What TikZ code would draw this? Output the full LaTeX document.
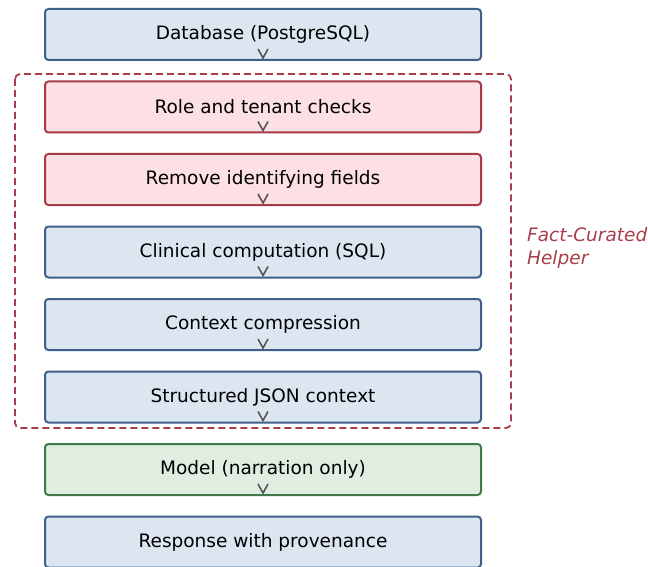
\documentclass[tikz,border=0pt]{standalone}
\usepackage{fontspec}
\setmainfont{DejaVu Sans}
\begin{document}
\begin{tikzpicture}[x=1pt,y=-1pt,
  box/.style={draw, line width=2pt, rounded corners=3.5pt, minimum width=436pt, minimum height=51pt, inner sep=0pt, font=\fontsize{18.5}{22}\selectfont},
  bluebox/.style={box, draw=boxblue, fill=fillblue},
  redbox/.style={box, draw=boxred, fill=fillred},
  greenbox/.style={box, draw=boxgreen, fill=fillgreen},
  chev/.style={draw=chevgray, line width=1.6pt},
  group/.style={draw=grpred, line width=1.8pt, dash pattern=on 7pt off 4pt, rounded corners=5pt}]
\definecolor{boxblue}{HTML}{3F5F88}
\definecolor{fillblue}{HTML}{DCE6F1}
\definecolor{boxred}{HTML}{A63A48}
\definecolor{fillred}{HTML}{FCE0E4}
\definecolor{boxgreen}{HTML}{3E7A48}
\definecolor{fillgreen}{HTML}{DFEEE0}
\definecolor{chevgray}{HTML}{555555}
\definecolor{grpred}{HTML}{A83E4C}
\useasboundingbox (0,0) rectangle (648,567);

% helper group frame
\draw[group] (15,74) rectangle (511,428);
\node[anchor=west, align=left, text=grpred, inner sep=0pt, font=\fontsize{18.5}{23}\selectfont\itshape] (lbl) at (527,247.5) {Fact-Curated\\Helper};

% pipeline stages
\node[bluebox]  (db)   at (263,34.5)  {Database (PostgreSQL)};
\node[redbox]   (role) at (263,107)   {Role and tenant checks};
\node[redbox]   (rem)  at (263,179.5) {Remove identifying fields};
\node[bluebox]  (clin) at (263,252)   {Clinical computation (SQL)};
\node[bluebox]  (ctx)  at (263,324.5) {Context compression};
\node[bluebox]  (json) at (263,397)   {Structured JSON context};
\node[greenbox] (mod)  at (263,469.5) {Model (narration only)};
\node[bluebox]  (resp) at (263,542)   {Response with provenance};

% flow chevrons at the foot of each stage
\foreach \n in {db,role,rem,clin,ctx,json,mod}{
  \draw[chev] ([xshift=-5pt,yshift=12pt]\n.south) -- ([yshift=3pt]\n.south) -- ([xshift=5pt,yshift=12pt]\n.south);
}
\end{tikzpicture}
\end{document}
